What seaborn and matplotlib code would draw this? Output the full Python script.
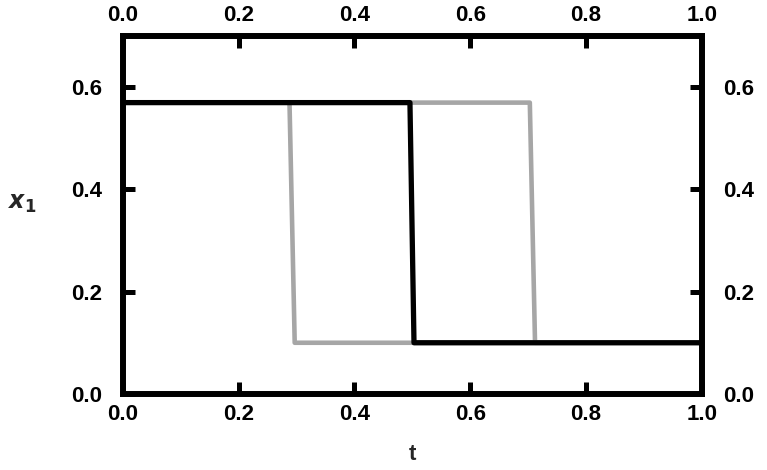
import matplotlib
matplotlib.use("Agg")
import matplotlib.pyplot as plt
import seaborn as sns
import pandas as pd

# Data
t_black = [0.0, 0.496, 0.503, 1.0]
x_black = [0.57, 0.57, 0.10, 0.10]
t_gray_a = [0.0, 0.288, 0.297, 1.0]
x_gray_a = [0.57, 0.57, 0.10, 0.10]
t_gray_b = [0.0, 0.703, 0.712, 1.0]
x_gray_b = [0.57, 0.57, 0.10, 0.10]
x_ticks = [0.0, 0.2, 0.4, 0.6, 0.8, 1.0]
y_ticks = [0.0, 0.2, 0.4, 0.6]

sns.set_style("ticks")
plt.rcParams['font.family'] = ['Liberation Sans', 'DejaVu Sans']
plt.rcParams['font.weight'] = 'bold'

fig = plt.figure(figsize=(7.67, 4.70), dpi=100)
ax = fig.add_axes([0.160, 0.162, 0.755, 0.761])

df_ga = pd.DataFrame({"t": t_gray_a, "x": x_gray_a})
df_gb = pd.DataFrame({"t": t_gray_b, "x": x_gray_b})
df_b = pd.DataFrame({"t": t_black, "x": x_black})
sns.lineplot(data=df_ga, x="t", y="x", ax=ax, color="#a6a6a6", lw=3.3, sort=False, estimator=None)
sns.lineplot(data=df_gb, x="t", y="x", ax=ax, color="#a6a6a6", lw=3.3, sort=False, estimator=None)
sns.lineplot(data=df_b, x="t", y="x", ax=ax, color="black", lw=3.8, sort=False, estimator=None)

ax.set_xlim(0, 1)
ax.set_ylim(0, 0.7)
ax.set_xticks(x_ticks)
ax.set_yticks(y_ticks)
ax.set_xticklabels([f"{v:.1f}" for v in x_ticks])
ax.set_yticklabels([f"{v:.1f}" for v in y_ticks])

for s in ax.spines.values():
    s.set_linewidth(4.3)
    s.set_color("black")
    s.set_visible(True)

ax.tick_params(axis='both', which='major', direction='in', length=8.5, width=3.6,
               top=True, right=True, labeltop=True, labelright=True,
               labelsize=16, colors='black')
ax.tick_params(axis='x', pad=7)
ax.tick_params(axis='y', pad=15)
for lab in ax.get_xticklabels() + ax.get_yticklabels():
    lab.set_fontweight('bold')

ax.set_xlabel("t", fontsize=16, fontweight='bold', labelpad=14)
ax.set_ylabel("$x_1$", fontsize=17, rotation=0, labelpad=35, fontweight='bold')

fig.savefig("out.png", dpi=100)
